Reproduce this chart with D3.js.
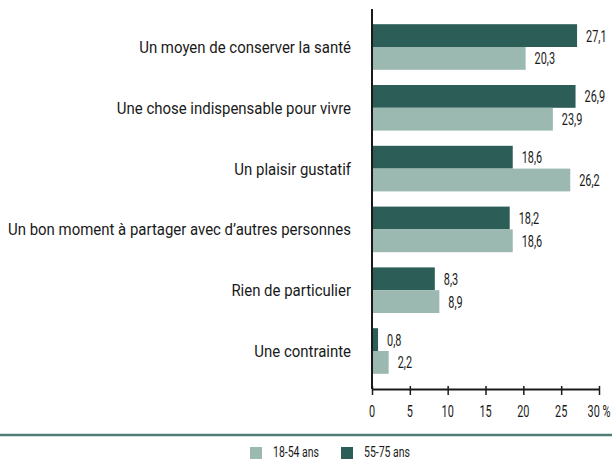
<!DOCTYPE html>
<html>
<head>
<meta charset="utf-8">
<script src="https://cdn.jsdelivr.net/npm/d3@7"></script>
<style>
  html, body { margin: 0; padding: 0; background: #fff; }
  svg { display: block; }
  text { font-family: Roboto, "Liberation Sans", sans-serif; fill: #1a1a1a; }
</style>
</head>
<body>
<svg id="chart" width="612" height="461"></svg>
<script>
// Categories (top to bottom) and values per age group, in %
const categories = [
  "Un moyen de conserver la santé",
  "Une chose indispensable pour vivre",
  "Un plaisir gustatif",
  "Un bon moment à partager avec d’autres personnes",
  "Rien de particulier",
  "Une contrainte"
];
const seniors = [27.1, 26.9, 18.6, 18.2, 8.3, 0.8];   // 55-75 ans
const adults  = [20.3, 23.9, 26.2, 18.6, 8.9, 2.2];   // 18-54 ans
const xTicks = [0, 5, 10, 15, 20, 25, 30];
const seriesNames = ["18-54 ans", "55-75 ans"];

const darkGreen = "#2c5e57";
const lightGreen = "#9bb8b1";
const ink = "#1a1a1a";

// Condensed look: text is drawn inside a horizontally squeezed group
const NUM_SX = 0.64;   // digits
const LEG_SX = 0.70;   // legend
const CAT_SX = 0.88;   // category labels

const svg = d3.select("#chart");
const x0 = 372, x1 = 599;

const x = d3.scaleLinear().domain([0, 30]).range([x0, x1]);
const y = d3.scaleBand().domain(categories).range([9, 389]).paddingInner(0.25).paddingOuter(0.25);
const sub = d3.scaleBand().domain(["seniors", "adults"]).range([0, y.bandwidth()]);

const fmt = v => d3.format(".1f")(v).replace(".", ",");

function squeezedText(parent, px, py, sx, str, size, anchor) {
  parent.append("g")
    .attr("transform", `translate(${px},${py}) scale(${sx},1)`)
    .append("text")
    .attr("dy", "0.35em")
    .attr("font-size", size)
    .attr("text-anchor", anchor || "start")
    .text(str);
}

const rows = categories.map((c, i) => ({ c, seniors: seniors[i], adults: adults[i] }));

const g = svg.append("g");

["seniors", "adults"].forEach(key => {
  g.selectAll("rect." + key)
    .data(rows)
    .join("rect")
    .attr("class", key)
    .attr("x", x(0))
    .attr("y", d => y(d.c) + sub(key))
    .attr("width", d => x(d[key]) - x(0))
    .attr("height", sub.bandwidth())
    .attr("fill", key === "seniors" ? darkGreen : lightGreen);

  rows.forEach(d => {
    squeezedText(g, x(d[key]) + 9, y(d.c) + sub(key) + sub.bandwidth() / 2,
      NUM_SX, fmt(d[key]), 17);
  });
});

// Category labels
categories.forEach(c => {
  squeezedText(g, 351, y(c) + y.bandwidth() / 2, CAT_SX, c, 17, "end");
});

// Vertical axis line
svg.append("line")
  .attr("x1", x(0)).attr("x2", x(0))
  .attr("y1", 9).attr("y2", 389)
  .attr("stroke", ink).attr("stroke-width", 2);

// Horizontal axis
const xAxis = svg.append("g")
  .attr("transform", "translate(0,389)")
  .call(d3.axisBottom(x).tickValues(xTicks).tickSize(6).tickSizeOuter(0).tickFormat(""));
xAxis.select(".domain").attr("stroke", ink).attr("stroke-width", 2);
xAxis.selectAll(".tick line").attr("stroke", ink).attr("stroke-width", 1.5).attr("y1", -3);
xTicks.forEach(t => {
  squeezedText(svg, x(t), 411, NUM_SX, t === 30 ? "30 %" : String(t), 17, "middle");
});

// Separator line above legend
svg.append("line")
  .attr("x1", 0).attr("x2", 612)
  .attr("y1", 435).attr("y2", 435)
  .attr("stroke", "#4f7c74").attr("stroke-width", 2.5);

// Legend
const legend = svg.append("g");
const legendItems = [
  { name: seriesNames[0], color: lightGreen, x: 250 },
  { name: seriesNames[1], color: darkGreen, x: 341 }
];
legendItems.forEach(it => {
  legend.append("rect")
    .attr("x", it.x).attr("y", 447)
    .attr("width", 12).attr("height", 12)
    .attr("fill", it.color);
  squeezedText(legend, it.x + 23, 452, LEG_SX, it.name, 15);
});
</script>
</body>
</html>
